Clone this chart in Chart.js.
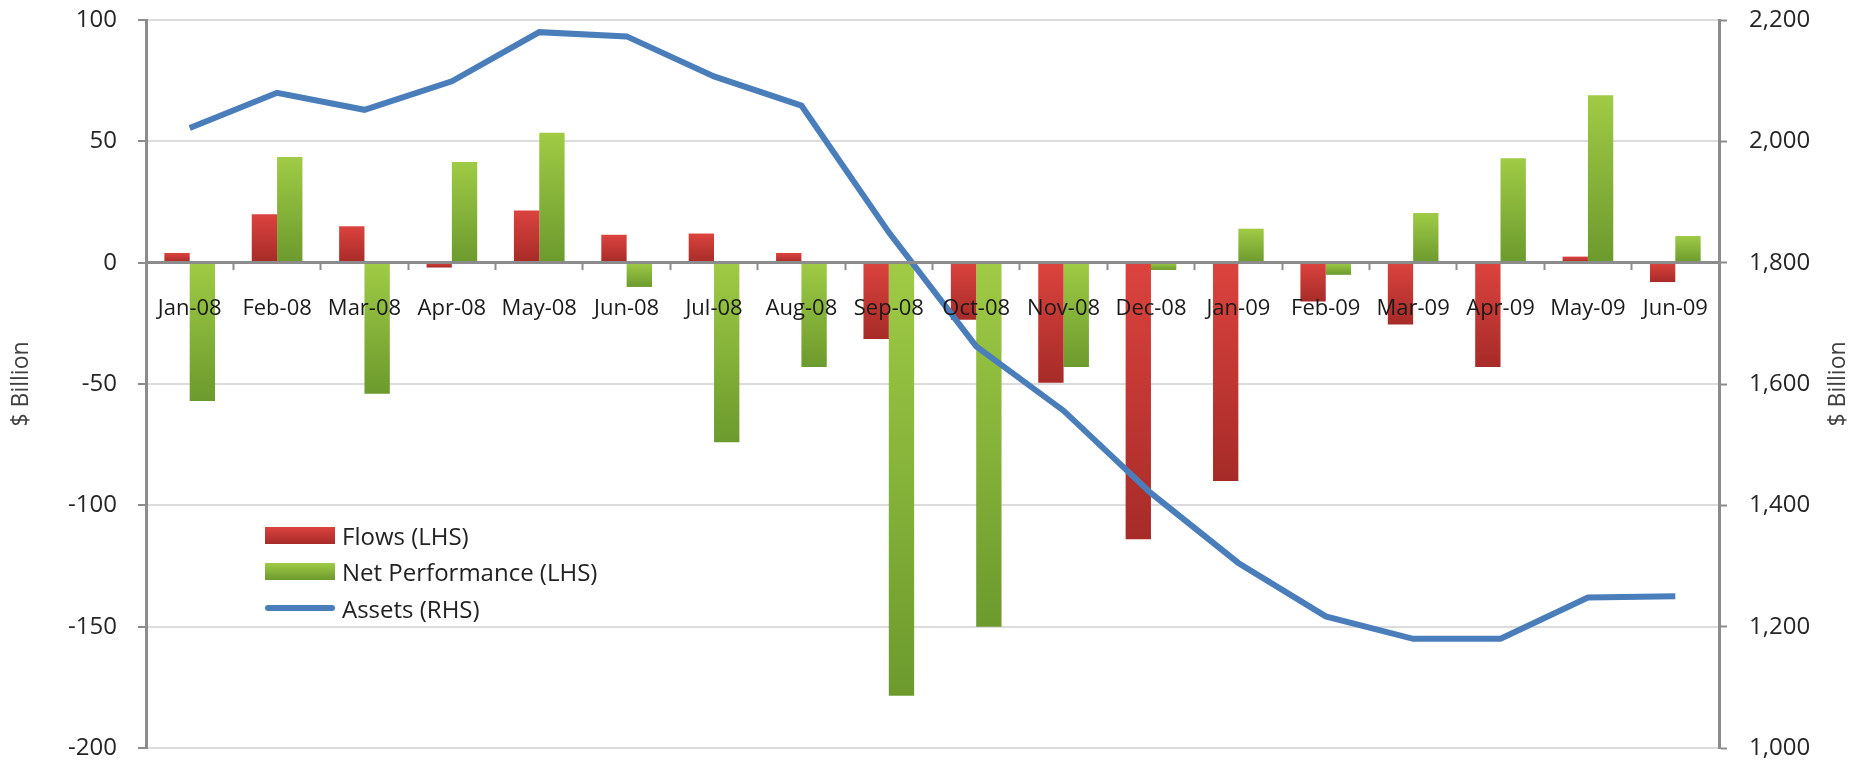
<!DOCTYPE html>
<html lang="en">
<head>
    <meta charset="UTF-8">
    <title>Flows, Net Performance and Assets</title>
    <script src="https://cdn.jsdelivr.net/npm/chart.js"></script>
    <style>
        body { margin: 0; background: #fff; }
        #wrap { position: relative; width: 1866px; height: 764px; }
        #legend { position: absolute; left: 265px; top: 517px; font-family: 'Open Sans', sans-serif; font-size: 24px; color: #222; }
        #legend .item { display: flex; align-items: center; height: 36.5px; }
        #legend .swatch { width: 70px; height: 17px; margin-right: 7px; }
        #legend .line { width: 70px; height: 6px; border-radius: 3px; margin-right: 7px; }
    </style>
</head>
<body>
    <div id="wrap">
        <canvas id="chart"></canvas>
        <div id="legend"></div>
    </div>
    <script>
        const categories = ['Jan-08', 'Feb-08', 'Mar-08', 'Apr-08', 'May-08', 'Jun-08', 'Jul-08', 'Aug-08', 'Sep-08',
            'Oct-08', 'Nov-08', 'Dec-08', 'Jan-09', 'Feb-09', 'Mar-09', 'Apr-09', 'May-09', 'Jun-09'];
        const flows = [4, 20, 15, -2, 21.5, 11.5, 12, 4, -31.5, -23.5, -49.5, -114, -90, -16, -25.5, -43, 2.5, -8];
        const netPerformance = [-57, 43.5, -54, 41.5, 53.5, -10, -74, -43, -178.5, -150, -43, -3, 14, -5, 20.5, 43, 69, 11];
        const assets = [2022, 2080, 2052, 2099, 2180, 2173, 2107, 2059, 1850, 1662, 1556, 1420, 1305, 1217, 1180, 1180, 1248, 1250];
        const leftTicks = [-200, -150, -100, -50, 0, 50, 100];
        const rightTicks = [1000, 1200, 1400, 1600, 1800, 2000, 2200];

        const FONT = "'Open Sans', sans-serif";
        const red = ['#dc433e', '#a62b28'];
        const green = ['#9fcb45', '#6c9a2d'];
        const blue = '#4a7ebb';

        // vertical gradient per bar, light on top, dark at the bottom
        function barFill(colors) {
            return (ctx) => {
                const chart = ctx.chart;
                if (ctx.type !== 'data' || !chart.chartArea) return colors[0];
                const y = chart.scales.y;
                const a = y.getPixelForValue(ctx.raw);
                const b = y.getPixelForValue(0);
                const top = Math.min(a, b), bottom = Math.max(a, b) + 0.01;
                const g = chart.ctx.createLinearGradient(0, top, 0, bottom);
                g.addColorStop(0, colors[0]);
                g.addColorStop(1, colors[1]);
                return g;
            };
        }

        // keep the tick padding from eating into the plot height
        function fixWidth(w) {
            return (s) => {
                s.width = w;
                s.paddingTop = 8;
                s.paddingBottom = 8;
            };
        }

        // right axis title reads bottom to top like the left one
        const rightTitle = {
            id: 'rightTitle',
            afterDraw(chart) {
                const c = chart.ctx;
                c.save();
                c.translate(1838, 384);
                c.rotate(-Math.PI / 2);
                c.font = '23px ' + FONT;
                c.fillStyle = '#404040';
                c.textAlign = 'center';
                c.textBaseline = 'middle';
                c.fillText('$ Billion', 0, 0);
                c.restore();
            }
        };

        const chart = new Chart(document.getElementById('chart'), {
            type: 'bar',
            data: {
                labels: categories,
                datasets: [
                    {
                        type: 'line', label: 'Assets (RHS)', data: assets, yAxisID: 'y1', order: 0,
                        borderColor: blue, borderWidth: 6, pointRadius: 0, tension: 0, fill: false
                    },
                    {
                        label: 'Flows (LHS)', data: flows, yAxisID: 'y', order: 1,
                        backgroundColor: barFill(red), categoryPercentage: 0.58, barPercentage: 1
                    },
                    {
                        label: 'Net Performance (LHS)', data: netPerformance, yAxisID: 'y', order: 2,
                        backgroundColor: barFill(green), categoryPercentage: 0.58, barPercentage: 1
                    }
                ]
            },
            options: {
                responsive: true,
                maintainAspectRatio: false,
                animation: false,
                layout: { padding: { top: 20, bottom: 16, left: 0, right: 0 } },
                plugins: { legend: { display: false }, tooltip: { enabled: false } },
                scales: {
                    x: {
                        position: { y: 0 },
                        offset: true,
                        border: { color: '#8c8c8c', width: 3, z: 1 },
                        grid: { offset: true, drawOnChartArea: false, drawTicks: true, tickLength: 6, tickColor: '#8c8c8c', tickWidth: 2, z: 1 },
                        ticks: { font: { family: FONT, size: 22 }, color: '#1a1a1a', padding: 27, maxRotation: 0, autoSkip: false, z: 1 }
                    },
                    y: {
                        position: 'left',
                        min: leftTicks[0], max: leftTicks[leftTicks.length - 1],
                        afterBuildTicks: (s) => { s.ticks = leftTicks.map(v => ({ value: v })); },
                        afterFit: fixWidth(146),
                        border: { color: '#8c8c8c', width: 3 },
                        grid: { color: '#dcdcdc', lineWidth: 2, drawTicks: true, tickLength: 8, tickColor: '#8c8c8c', tickWidth: 2 },
                        ticks: { font: { family: FONT, size: 24 }, color: '#262626', padding: 21 },
                        title: { display: true, text: '$ Billion', font: { family: FONT, size: 23 }, color: '#404040', padding: { top: 8, bottom: 0 } }
                    },
                    y1: {
                        position: 'right',
                        min: rightTicks[0], max: rightTicks[rightTicks.length - 1],
                        afterBuildTicks: (s) => { s.ticks = rightTicks.map(v => ({ value: v })); },
                        afterFit: fixWidth(147),
                        border: { color: '#8c8c8c', width: 3 },
                        grid: { drawOnChartArea: false, drawTicks: true, tickLength: 8, tickColor: '#8c8c8c', tickWidth: 2 },
                        ticks: { font: { family: FONT, size: 24 }, color: '#262626', padding: 22, callback: v => v.toLocaleString('en-US') }
                    }
                }
            },
            plugins: [rightTitle]
        });

        // legend inside the plot, built from the datasets
        const legend = document.getElementById('legend');
        [chart.data.datasets[1], chart.data.datasets[2], chart.data.datasets[0]].forEach(ds => {
            const item = document.createElement('div');
            item.className = 'item';
            const mark = document.createElement('span');
            if (ds.type === 'line') {
                mark.className = 'line';
                mark.style.background = ds.borderColor;
            } else {
                const c = ds === chart.data.datasets[1] ? red : green;
                mark.className = 'swatch';
                mark.style.background = `linear-gradient(${c[0]}, ${c[1]})`;
            }
            item.appendChild(mark);
            const text = document.createElement('span');
            text.textContent = ds.label;
            item.appendChild(text);
            legend.appendChild(item);
        });
    </script>
</body>
</html>
